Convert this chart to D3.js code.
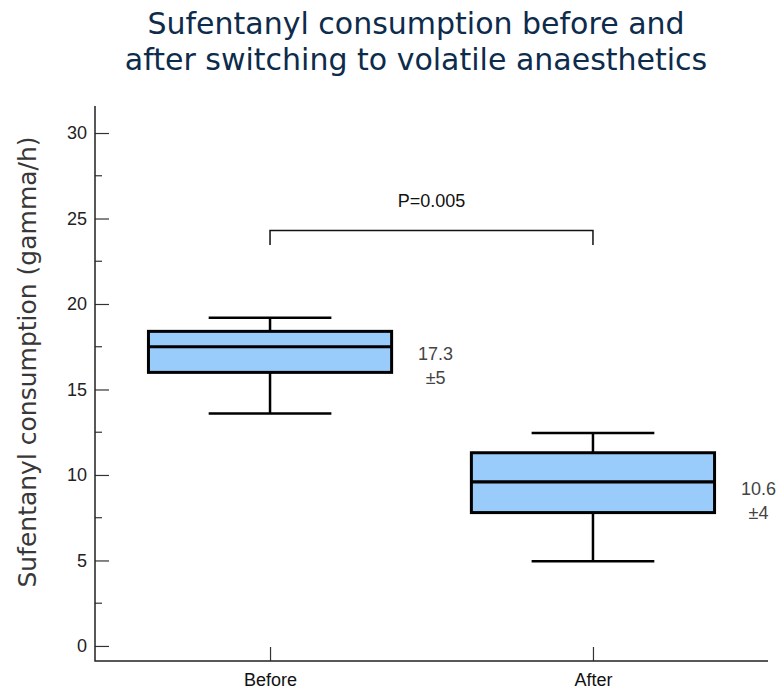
<!DOCTYPE html>
<html>
<head>
<meta charset="utf-8">
<script src="https://cdn.jsdelivr.net/npm/d3@7"></script>
<style>
  body { margin: 0; background: #fff; }
  svg { display: block; }
</style>
</head>
<body>
<svg id="chart" width="781" height="690"></svg>
<script>
// Sufentanyl consumption per group (gamma/h)
const groups = ["Before", "After"];
const whiskerLow = [13.6, 4.95];
const quartile1 = [16.0, 7.8];
const medians = [17.5, 9.6];
const quartile3 = [18.4, 11.3];
const whiskerHigh = [19.2, 12.45];
const meanLabels = ["17.3", "10.6"];
const sdLabels = ["±5", "±4"];
const yTicks = [0, 5, 10, 15, 20, 25, 30];
const yMinorTicks = [2.5, 7.5, 12.5, 17.5, 22.5, 27.5];
const pValueText = "P=0.005";
const bracketLevel = 24.3;
const bracketDrop = 0.85;

const svg = d3.select("#chart");
const plotLeft = 95, plotRight = 768, plotTop = 106, plotBottom = 661;

const y = d3.scaleLinear().domain([-0.88, 31.58]).range([plotBottom, plotTop]);
const x = d3.scalePoint().domain(groups).range([plotLeft, plotRight]).padding(0.542);
const step = x.step();
const boxW = step * 0.753;
const capW = step * 0.38;

// Title
const title = svg.append("text")
  .attr("x", 416).attr("y", 34)
  .attr("text-anchor", "middle")
  .attr("font-family", "DejaVu Sans, Verdana, sans-serif")
  .attr("font-size", 30)
  .attr("fill", "#0d2b4b");
title.append("tspan").attr("x", 416).text("Sufentanyl consumption before and");
title.append("tspan").attr("x", 416).attr("dy", 36).text("after switching to volatile anaesthetics");

// Y axis
const yAxis = svg.append("g").attr("transform", `translate(${plotLeft},0)`)
  .call(d3.axisLeft(y).tickValues(yTicks).tickSize(-14).tickPadding(8).tickSizeOuter(0));
yAxis.select(".domain").remove();
yAxis.selectAll(".tick line").attr("stroke", "#333").attr("stroke-width", 1.2);
yAxis.selectAll(".tick text")
  .attr("font-family", "Liberation Sans, Arial, sans-serif")
  .attr("font-size", 18).attr("fill", "#222");

svg.append("g").selectAll("line").data(yMinorTicks).join("line")
  .attr("x1", plotLeft).attr("x2", plotLeft + 7)
  .attr("y1", d => y(d)).attr("y2", d => y(d))
  .attr("stroke", "#333").attr("stroke-width", 1.2);

// X axis ticks and labels
const xAxis = svg.append("g").attr("transform", `translate(0,${plotBottom})`)
  .call(d3.axisBottom(x).tickSize(-14).tickPadding(12).tickSizeOuter(0));
xAxis.select(".domain").remove();
xAxis.selectAll(".tick line").attr("stroke", "#333").attr("stroke-width", 1.2);
xAxis.selectAll(".tick text")
  .attr("font-family", "Liberation Sans, Arial, sans-serif")
  .attr("font-size", 18).attr("fill", "#111");

// Axis frame lines
svg.append("path")
  .attr("d", `M${plotLeft},${plotTop}V${plotBottom}H${plotRight}`)
  .attr("fill", "none").attr("stroke", "#222").attr("stroke-width", 1.5);

// Y axis title
svg.append("text")
  .attr("transform", "translate(36,362) rotate(-90)")
  .attr("text-anchor", "middle")
  .attr("font-family", "DejaVu Sans, Verdana, sans-serif")
  .attr("font-size", 25)
  .attr("fill", "#383838")
  .text("Sufentanyl consumption (gamma/h)");

// Box plots
const boxes = svg.append("g").selectAll("g").data(groups).join("g");

boxes.append("line")
  .attr("x1", d => x(d)).attr("x2", d => x(d))
  .attr("y1", (d, i) => y(whiskerLow[i])).attr("y2", (d, i) => y(whiskerHigh[i]))
  .attr("stroke", "#000").attr("stroke-width", 2.5);

boxes.selectAll("line.cap")
  .data((d, i) => [{ c: x(d), v: whiskerLow[i] }, { c: x(d), v: whiskerHigh[i] }])
  .join("line").attr("class", "cap")
  .attr("x1", d => d.c - capW / 2).attr("x2", d => d.c + capW / 2)
  .attr("y1", d => y(d.v)).attr("y2", d => y(d.v))
  .attr("stroke", "#000").attr("stroke-width", 2.5);

boxes.append("rect")
  .attr("x", d => x(d) - boxW / 2)
  .attr("width", boxW)
  .attr("y", (d, i) => y(quartile3[i]))
  .attr("height", (d, i) => y(quartile1[i]) - y(quartile3[i]))
  .attr("fill", "#99ccfb").attr("stroke", "#000").attr("stroke-width", 3);

boxes.append("line")
  .attr("x1", d => x(d) - boxW / 2).attr("x2", d => x(d) + boxW / 2)
  .attr("y1", (d, i) => y(medians[i])).attr("y2", (d, i) => y(medians[i]))
  .attr("stroke", "#000").attr("stroke-width", 3.2);

// Mean ± SD annotations
const ann = boxes.append("text")
  .attr("text-anchor", "middle")
  .attr("font-family", "Liberation Sans, Arial, sans-serif")
  .attr("font-size", 18).attr("fill", "#444");
ann.append("tspan")
  .attr("x", d => x(d) + boxW / 2 + 44)
  .attr("y", (d, i) => y(medians[i]) + 13)
  .text((d, i) => meanLabels[i]);
ann.append("tspan")
  .attr("x", d => x(d) + boxW / 2 + 44)
  .attr("dy", 24)
  .text((d, i) => sdLabels[i]);

// Significance bracket
const bx1 = x(groups[0]), bx2 = x(groups[1]);
svg.append("path")
  .attr("d", `M${bx1},${y(bracketLevel - bracketDrop)}V${y(bracketLevel)}H${bx2}V${y(bracketLevel - bracketDrop)}`)
  .attr("fill", "none").attr("stroke", "#111").attr("stroke-width", 1.5);
svg.append("text")
  .attr("x", (bx1 + bx2) / 2).attr("y", y(bracketLevel) - 23)
  .attr("text-anchor", "middle")
  .attr("font-family", "Liberation Sans, Arial, sans-serif")
  .attr("font-size", 18).attr("fill", "#111")
  .text(pValueText);
</script>
</body>
</html>
